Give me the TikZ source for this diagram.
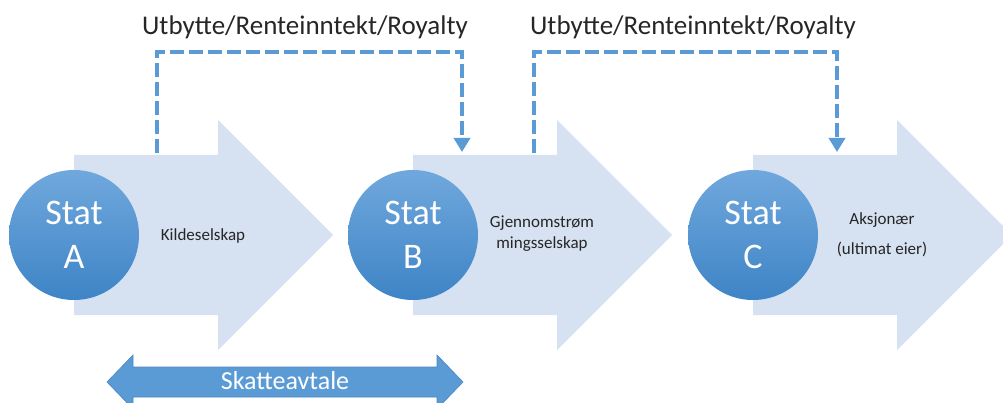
\documentclass[tikz,border=0pt]{standalone}
\usepackage{fontspec}
\setmainfont{Carlito}
\usetikzlibrary{arrows.meta}

\definecolor{flowfill}{HTML}{D6E1F1}
\definecolor{statetop}{HTML}{70A8DD}
\definecolor{statebottom}{HTML}{3E84C6}
\definecolor{linkblue}{HTML}{5B9BD5}
\definecolor{treatyedge}{HTML}{4A86C0}

\tikzset{
  flowarrow/.style={fill=flowfill, draw=none},
  statenode/.style={circle, minimum size=130pt, inner sep=0pt, draw=none,
    top color=statetop, bottom color=statebottom, text=white,
    align=center, font=\fontsize{36}{44}\selectfont},
  rolelabel/.style={align=center, text=black!85},
  paylabel/.style={font=\fontsize{27}{32}\selectfont, text=black!85},
  payment/.style={linkblue, line width=4.5pt, dash pattern=on 14pt off 5pt,
    -{Triangle[width=16pt,length=14pt]}},
  treaty/.style={fill=linkblue, draw=treatyedge, line width=0.6pt},
}

\begin{document}
\begin{tikzpicture}[x=1pt,y=-1pt]
\useasboundingbox (0,0) rectangle (1003,403);

% the three flow arrows, one per state
\foreach \x in {74,413,753}{
  \fill[flowarrow] (\x,155) -- ++(144,0) -- ++(0,-35) -- ++(115,115)
    -- ++(-115,115) -- ++(0,-35) -- (\x,315) -- cycle;
}

% states
\node[statenode] (sa) at (74,235) {Stat\\A};
\node[statenode] (sb) at (413,235) {Stat\\B};
\node[statenode] (sc) at (753,235) {Stat\\C};

% roles
\node[rolelabel, font=\fontsize{17}{21}\selectfont] (ra) at (203,236) {Kildeselskap};
\node[rolelabel, font=\fontsize{17}{21}\selectfont] (rb) at (542,234) {Gjennomstrøm\\mingsselskap};
\node[rolelabel, font=\fontsize{17}{30}\selectfont] (rc) at (882,235) {Aksjonær\\(ultimat eier)};

% payment flows
\coordinate (p1s) at (157,153);
\coordinate (p1e) at (462,152);
\coordinate (p2s) at (534,153);
\coordinate (p2e) at (837,152);
\draw[payment] (p1s) -- (157,52) -- (462,52) -- (p1e);
\draw[payment] (p2s) -- (534,52) -- (837,52) -- (p2e);
\node[paylabel, anchor=base] (l1) at (305,35) {Utbytte/Renteinntekt/Royalty};
\node[paylabel, anchor=base] (l2) at (693,35) {Utbytte/Renteinntekt/Royalty};

% tax treaty between state A and state B
\path[treaty] (107,382) -- (133,355) -- (133,367) -- (437,367) -- (437,355)
  -- (463,382) -- (437,409) -- (437,397) -- (133,397) -- (133,409) -- cycle;
\node[text=white, font=\fontsize{26}{30}\selectfont] (tr) at (285,381) {Skatteavtale};
\end{tikzpicture}
\end{document}
